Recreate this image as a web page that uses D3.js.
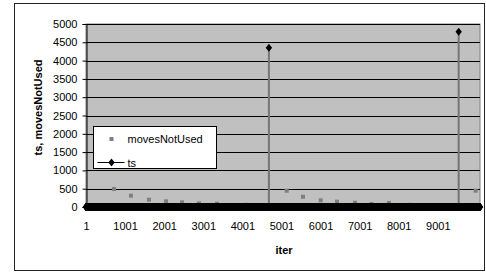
<!DOCTYPE html>
<html>
<head>
<meta charset="utf-8">
<script src="https://cdn.jsdelivr.net/npm/d3@7"></script>
<style>
  body { margin: 0; background: #fff; }
  text { font-family: Arial, "Liberation Sans", sans-serif; fill: #000; }
</style>
</head>
<body>
<svg id="chart" width="486" height="273"></svg>
<script>
// data
const iterCount = 10080;                 // number of iterations (categories)
const tsPeaks = [[4680, 4350], [9535, 4790]];   // ts is 0 everywhere else
const movesIter = [716, 1151, 1612, 2047, 2456, 2891, 3351, 4100, 5135, 5552, 6005, 6421, 6882, 7300, 7752, 8300, 9970];
const movesValue = [492, 310, 200, 155, 128, 100, 90, 60, 445, 280, 183, 145, 117, 80, 110, 60, 445];
const xTickLabels = [1, 1001, 2001, 3001, 4001, 5001, 6001, 7001, 8001, 9001];
const yTicks = [0, 500, 1000, 1500, 2000, 2500, 3000, 3500, 4000, 4500, 5000];

const svg = d3.select("#chart");
const plotL = 86, plotR = 480, plotT = 24, plotB = 207;

// outer chart frame
svg.append("rect")
    .attr("x", 14.5).attr("y", 3.5)
    .attr("width", 470).attr("height", 267)
    .attr("fill", "#fff").attr("stroke", "#222").attr("stroke-width", 1);

// category scale: each iteration sits in the middle of its slot
const x = d3.scaleLinear().domain([0.5, iterCount + 0.5]).range([plotL, plotR]);
const y = d3.scaleLinear().domain([0, 5000]).range([plotB, plotT]);

// plot area
svg.append("rect")
    .attr("x", plotL).attr("y", plotT)
    .attr("width", plotR - plotL).attr("height", plotB - plotT)
    .attr("fill", "#c0c0c0").attr("stroke", "#808080").attr("stroke-width", 1);

// gridlines
svg.append("g").selectAll("line")
    .data(yTicks.filter(d => d > 0))
    .enter().append("line")
    .attr("x1", plotL).attr("x2", plotR)
    .attr("y1", d => Math.round(y(d)) + 0.5).attr("y2", d => Math.round(y(d)) + 0.5)
    .attr("stroke", "#000").attr("stroke-width", 1);

// y axis
const yAxis = svg.append("g")
    .attr("transform", "translate(" + (plotL + 0.5) + ",0)")
    .call(d3.axisLeft(y).tickValues(yTicks).tickSize(4).tickPadding(5).tickFormat(d3.format("d")));
yAxis.select(".domain").attr("stroke", "#000");
yAxis.selectAll("text").style("font-size", "11px").style("font-family", "Arial, 'Liberation Sans', sans-serif");

// x axis (labels only every 1000 iterations)
const xAxis = svg.append("g")
    .attr("transform", "translate(0," + (plotB + 0.5) + ")")
    .call(d3.axisBottom(x).tickValues(xTickLabels).tickSize(0).tickPadding(15).tickFormat(d3.format("d")));
xAxis.select(".domain").attr("stroke", "#000");
xAxis.selectAll("text").style("font-size", "11px").style("font-family", "Arial, 'Liberation Sans', sans-serif");

// movesNotUsed markers
svg.append("g").selectAll("rect")
    .data(movesIter.map((d, i) => [d, movesValue[i]]))
    .enter().append("rect")
    .attr("x", d => x(d[0]) - 2).attr("y", d => y(d[1]) - 2)
    .attr("width", 4).attr("height", 4)
    .attr("fill", "#7f7f7f");

// ts series: zero with two spikes
const peakMap = new Map(tsPeaks);
const ts = d3.range(1, iterCount + 1).map(i => [i, peakMap.get(i) || 0]);

svg.append("path")
    .datum(ts)
    .attr("d", d3.line().x(d => x(d[0])).y(d => y(d[1])))
    .attr("fill", "none").attr("stroke", "#777").attr("stroke-width", 2);

const diamond = d3.symbol().type(d3.symbolDiamond).size(18);
svg.append("g").selectAll("path")
    .data(ts)
    .enter().append("path")
    .attr("transform", d => "translate(" + x(d[0]) + "," + y(d[1]) + ") scale(1.4,1)")
    .attr("d", diamond)
    .attr("fill", "#000");

// axis titles
svg.append("text")
    .attr("transform", "translate(42," + ((plotT + plotB) / 2 - 8) + ") rotate(-90)")
    .attr("text-anchor", "middle")
    .style("font-size", "11px").style("font-weight", "bold")
    .text("ts, movesNotUsed");

svg.append("text")
    .attr("x", 284).attr("y", 254)
    .attr("text-anchor", "middle")
    .style("font-size", "11px").style("font-weight", "bold")
    .text("iter");

// legend
const legend = svg.append("g").attr("transform", "translate(93.5,126.5)");
legend.append("rect")
    .attr("width", 123).attr("height", 42)
    .attr("fill", "#fff").attr("stroke", "#000").attr("stroke-width", 1);
legend.append("rect")
    .attr("x", 16).attr("y", 10.5).attr("width", 4).attr("height", 4)
    .attr("fill", "#7f7f7f");
legend.append("text")
    .attr("x", 34).attr("y", 16).style("font-size", "11px")
    .text("movesNotUsed");
legend.append("line")
    .attr("x1", 4).attr("x2", 31).attr("y1", 36).attr("y2", 36)
    .attr("stroke", "#000").attr("stroke-width", 1);
legend.append("path")
    .attr("transform", "translate(18,36) scale(1.4,1)")
    .attr("d", diamond).attr("fill", "#000");
legend.append("text")
    .attr("x", 34).attr("y", 40).style("font-size", "11px")
    .text("ts");
</script>
</body>
</html>
